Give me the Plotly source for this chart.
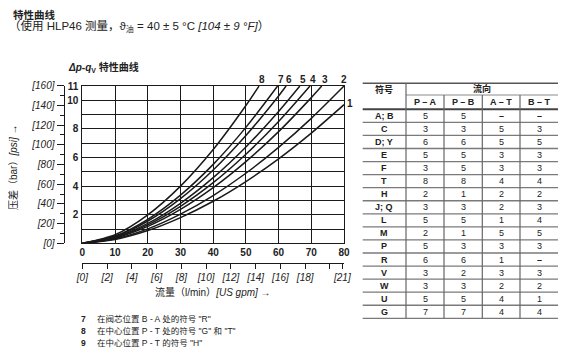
import plotly.graph_objects as go

# page body has an 8 px default margin; the figure is sized to fit inside the window
OFF = 8
W, H = 568 - 2 * OFF, 360 - 2 * OFF

# ---------------- data ----------------
curve_names = ["1", "2", "3", "4", "5", "6", "7", "8"]
flow_1 = [0, 10, 20, 30, 40, 50, 60, 70, 80]
dp_1 = [0, 0.27, 0.89, 1.80, 2.94, 4.32, 5.91, 7.71, 9.70]
flow_2 = [0, 10, 20, 30, 40, 50, 60, 70, 80]
dp_2 = [0, 0.31, 1.01, 2.04, 3.34, 4.90, 6.71, 8.74, 11.0]
flow_3 = [0, 10, 20, 30, 40, 50, 60, 70, 73.2]
dp_3 = [0, 0.36, 1.18, 2.37, 3.89, 5.71, 7.81, 10.19, 11.0]
flow_4 = [0, 10, 20, 30, 40, 50, 60, 69.6]
dp_4 = [0, 0.39, 1.29, 2.59, 4.24, 6.23, 8.52, 11.0]
flow_5 = [0, 10, 20, 30, 40, 50, 60, 66.5]
dp_5 = [0, 0.42, 1.39, 2.80, 4.59, 6.74, 9.22, 11.0]
flow_6 = [0, 10, 20, 30, 40, 50, 60, 62.3]
dp_6 = [0, 0.47, 1.56, 3.13, 5.13, 7.54, 10.31, 11.0]
flow_7 = [0, 10, 20, 30, 40, 50, 59.7]
dp_7 = [0, 0.51, 1.68, 3.37, 5.52, 8.11, 11.0]
flow_8 = [0, 10, 20, 30, 40, 50, 54]
dp_8 = [0, 0.60, 1.99, 4.00, 6.56, 9.64, 11.0]

bar_ticks = [0, 1, 2, 3, 4, 5, 6, 7, 8, 9, 10, 11]
bar_ticklabels = ["", "", "2", "", "4", "", "6", "", "8", "", "10", "11"]
psi_ticks = [0, 20, 40, 60, 80, 100, 120, 140, 160]
psi_ticklabels = ["[0]", "[20]", "[40]", "[60]", "[80]", "[100]", "[120]", "[140]", "[160]"]
gpm_ticks = [0, 2, 4, 6, 8, 10, 12, 14, 16, 18, 20, 21]
gpm_ticklabels = ["[0]", "[2]", "[4]", "[6]", "[8]", "[10]", "[12]", "[14]", "[16]", "[18]", " ", "[21]"]

table_symbols = ["A; B", "C", "D; Y", "E", "F", "T", "H", "J; Q",
                 "L", "M", "P", "R", "V", "W", "U", "G"]
col_PA = ["5", "3", "6", "5", "3", "8", "2", "3", "5", "2", "5", "6", "3", "3", "5", "7"]
col_PB = ["5", "3", "6", "5", "5", "8", "1", "3", "5", "1", "3", "6", "2", "3", "5", "7"]
col_AT = ["–", "5", "5", "3", "3", "4", "2", "2", "1", "5", "3", "1", "3", "2", "4", "4"]
col_BT = ["–", "3", "5", "3", "3", "4", "2", "3", "4", "5", "3", "–", "3", "2", "1", "4"]
table_cols = ["P – A", "P – B", "A – T", "B – T"]

footnotes = [("7", "在阀芯位置 B - A 处的符号 \"R\""),
             ("8", "在中心位置 P - T 处的符号 \"G\" 和 \"T\""),
             ("9", "在中心位置 P - T 的符号 \"H\"")]

BAR_TO_PSI = 14.5038
LPM_PER_GPM = 3.78541

# ---------------- styling ----------------
CJK = "Noto Sans CJK SC"
NARROW = "Liberation Sans Narrow, Liberation Sans, Arial, " + CJK
SANS = "Liberation Sans, Arial, " + CJK
TXT = "#222222"


def PX(x):  # window pixel x -> paper fraction
    return (x - OFF) / W


def PY(y):  # window pixel y (from top) -> paper fraction
    return 1 - (y - OFF) / H


fig = go.Figure()

flows = [flow_1, flow_2, flow_3, flow_4, flow_5, flow_6, flow_7, flow_8]
dps = [dp_1, dp_2, dp_3, dp_4, dp_5, dp_6, dp_7, dp_8]
for name, fx, fy in zip(curve_names, flows, dps):
    fig.add_trace(go.Scatter(x=fx, y=fy, mode="lines", name=name,
                             line=dict(color="#1a1a1a", width=1.5, shape="spline", smoothing=0.8),
                             showlegend=False, hoverinfo="skip"))

# helper invisible traces to activate secondary axes
fig.add_trace(go.Scatter(x=[0], y=[0], xaxis="x2", yaxis="y", mode="markers",
                         marker=dict(opacity=0), showlegend=False, hoverinfo="skip"))
fig.add_trace(go.Scatter(x=[0], y=[0], xaxis="x", yaxis="y3", mode="markers",
                         marker=dict(opacity=0), showlegend=False, hoverinfo="skip"))

xdom = [PX(82.4), PX(344.0)]
ydom = [PY(243.3), PY(85.6)]
ymax_bar = 160 / BAR_TO_PSI

fig.update_layout(
    width=W, height=H, margin=dict(l=0, r=0, t=0, b=0, autoexpand=False),
    paper_bgcolor="white", plot_bgcolor="white",
    font=dict(family=SANS, color=TXT, size=10),
    xaxis=dict(domain=xdom, range=[0, 80], dtick=10, showgrid=True, gridcolor="#1a1a1a", gridwidth=1,
               showline=True, linecolor="#1a1a1a", linewidth=1.2, mirror=True, zeroline=False,
               ticks="", automargin=False,
               tickfont=dict(family=NARROW, size=10, color=TXT, weight="bold"),
               fixedrange=True),
    yaxis=dict(domain=ydom, range=[0, ymax_bar], tickvals=bar_ticks, ticktext=bar_ticklabels,
               showgrid=True, gridcolor="#1a1a1a", gridwidth=1,
               showline=True, linecolor="#1a1a1a", linewidth=1.2, mirror=True, zeroline=False,
               ticks="", ticklabelstandoff=1, automargin=False,
               tickfont=dict(family=NARROW, size=10, color=TXT, weight="bold"), fixedrange=True),
    xaxis2=dict(overlaying="x", anchor="free", position=PY(262.7), side="bottom",
                range=[0, 80 / LPM_PER_GPM], tickvals=gpm_ticks, ticktext=gpm_ticklabels,
                showgrid=False, zeroline=False, showline=True, linecolor="#1a1a1a", linewidth=1,
                ticks="outside", ticklen=5, tickcolor="#1a1a1a", automargin=False,
                tickfont=dict(family=NARROW, size=10, color=TXT, style="italic"), fixedrange=True),
    yaxis3=dict(overlaying="y", anchor="free", position=PX(63.5), side="left",
                range=[0, 160], tickvals=psi_ticks, ticktext=psi_ticklabels,
                minor=dict(dtick=10, ticks="outside", ticklen=4, tickcolor="#1a1a1a"),
                showgrid=False, zeroline=False, showline=True, linecolor="#1a1a1a", linewidth=1,
                ticks="outside", ticklen=7, tickcolor="#1a1a1a", automargin=False,
                tickfont=dict(family=NARROW, size=10, color=TXT, style="italic"), fixedrange=True),
)

ann = []


def A(xp, yp, text, size=10, family=SANS, xanchor="center", yanchor="middle", **kw):
    ann.append(dict(x=PX(xp), y=PY(yp), xref="paper", yref="paper", text=text,
                    showarrow=False, xanchor=xanchor, yanchor=yanchor,
                    font=dict(family=family, size=size, color=TXT), **kw))


# curve labels (derived from the curve endpoints)
for name, fx, fy in zip(curve_names, flows, dps):
    if fy[-1] >= 11:
        xs = 0 if fx[-1] >= 80 else 3
        ys = 7
    else:
        xs, ys = 6, 1
    ann.append(dict(x=fx[-1], y=fy[-1], xref="x", yref="y", text="<b>%s</b>" % name,
                    showarrow=False, xshift=xs, yshift=ys, xanchor="center", yanchor="middle",
                    font=dict(family=NARROW, size=10, color=TXT)))

# titles
A(12, 8.3, "<b>特性曲线</b>", size=10.5, family="Liberation Sans, " + CJK,
  xanchor="left", yanchor="top", borderpad=0)
A(8, 26.5, "（使用 HLP46 测量，ϑ<sub>油</sub> = 40 ± 5 °C <i>[104 ± 9 °F]</i>）", size=11.5,
  family="Liberation Sans, " + CJK, xanchor="left", borderpad=0)
A(103, 68, "<b><i>Δp</i>-<i>q</i><sub>V</sub> 特性曲线</b>", size=10, family="Liberation Sans, " + CJK)
A(213, 291.5, "流量（l/min）<i>[US gpm]</i> →", size=10, family="Liberation Sans, " + CJK)
A(13, 167, "压差（bar）<i>[psi]</i> →", size=10, family="Liberation Sans, " + CJK, textangle=-90)

# footnotes
for i, (num, txt) in enumerate(footnotes):
    yy = 319 + i * 12.2
    A(83.5, yy, "<b>%s</b>" % num, size=8.5, family="Liberation Sans, " + CJK)
    A(95, yy, txt, size=8.5, family="Liberation Sans, " + CJK, xanchor="left")

# ---------------- table ----------------
shapes = []
tl, tr = 362.7, 558.0
c1 = 406.0
colx = [406.0, 444.0, 482.3, 520.0, 558.0]
top, hmid, hbot = 83.3, 95.0, 109.3
rowh = (318.3 - hbot) / len(table_symbols)
bottom = hbot + rowh * len(table_symbols)


def L(x0, y0, x1, y1, color="#8a8a8a", width=1.2):
    shapes.append(dict(type="line", xref="paper", yref="paper",
                       x0=PX(x0), x1=PX(x1), y0=PY(y0), y1=PY(y1),
                       line=dict(color=color, width=width)))


L(tl, top, tr, top, color="#555555", width=1.5)
L(c1, hmid, tr, hmid, color="#8a8a8a", width=1)
L(tl, hbot, tr, hbot, color="#444444", width=2)
for k in range(1, len(table_symbols) + 1):
    yy = hbot + rowh * k
    L(tl, yy, tr, yy, color="#7a7a7a", width=1.3)
L(c1, top, c1, bottom, color="#666666", width=1.2)
for cx in colx[1:4]:
    L(cx, hmid, cx, bottom, color="#666666", width=1.2)

A((tl + c1) / 2, 89.5, "<b>符号</b>", size=9, family=CJK)
A((c1 + tr) / 2, 88.5, "<b>流向</b>", size=9, family=CJK)
for j, h in enumerate(table_cols):
    A((colx[j] + colx[j + 1]) / 2, 102.5, "<b>%s</b>" % h, size=9)

cols = [col_PA, col_PB, col_AT, col_BT]
for i, sym in enumerate(table_symbols):
    yy = hbot + rowh * (i + 0.5)
    A((tl + c1) / 2, yy, "<b>%s</b>" % sym, size=9)
    for j, col in enumerate(cols):
        v = col[i]
        A((colx[j] + colx[j + 1]) / 2, yy, ("<b>%s</b>" % v) if v == "–" else v, size=9)

fig.update_layout(annotations=ann, shapes=shapes)
fig.write_html("out.html")
